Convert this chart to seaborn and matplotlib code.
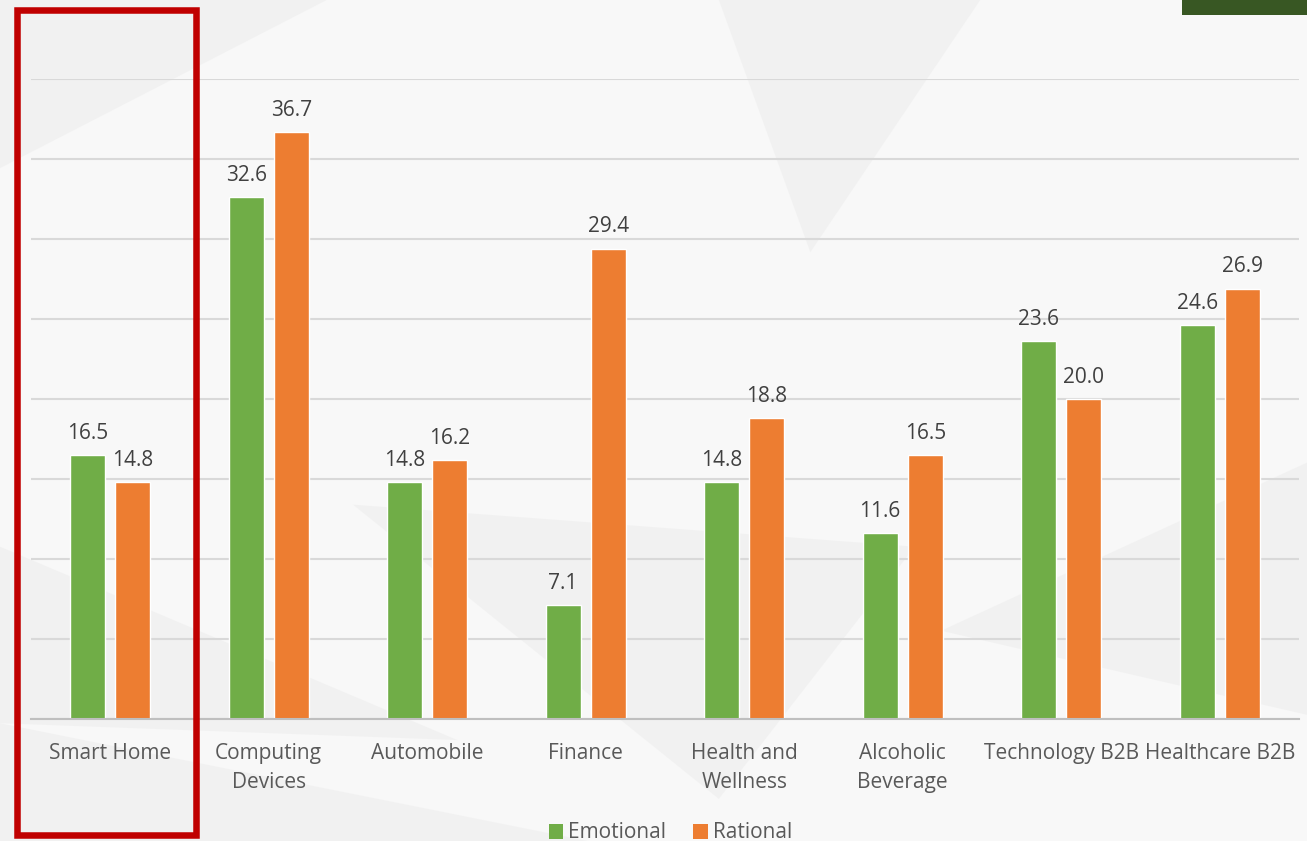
import matplotlib
matplotlib.use("Agg")
import matplotlib.pyplot as plt
from matplotlib.patches import Rectangle, Polygon
import seaborn as sns
import pandas as pd

categories = ["Smart Home", "Computing\nDevices", "Automobile", "Finance",
              "Health and\nWellness", "Alcoholic\nBeverage", "Technology B2B", "Healthcare B2B"]
emotional = [16.5, 32.6, 14.8, 7.1, 14.8, 11.6, 23.6, 24.6]
rational = [14.8, 36.7, 16.2, 29.4, 18.8, 16.5, 20.0, 26.9]
series_names = ["Emotional", "Rational"]
colors = ["#70AD47", "#ED7D31"]

df = pd.DataFrame({
    "Category": categories * 2,
    "Value": emotional + rational,
    "Series": [series_names[0]] * len(categories) + [series_names[1]] * len(categories),
})

sns.set_theme(style="white")
plt.rcParams["font.family"] = ["Open Sans", "DejaVu Sans"]

fig = plt.figure(figsize=(13.07, 8.41), dpi=100)
fig.patch.set_facecolor("#F8F8F8")

# faint decorative background shapes (behind the chart)
bg_shapes = [
    [(0, 0), (0, 0.14), (0.45, 0.0)],
    [(0.0, 0.14), (0.0, 0.35), (0.35, 0.12)],
    [(0.27, 0.40), (0.55, 0.05), (0.70, 0.35)],
    [(0.55, 1.0), (0.75, 1.0), (0.62, 0.7)],
    [(0.72, 0.25), (1.0, 0.45), (1.0, 0.15)],
    [(0.0, 1.0), (0.25, 1.0), (0.0, 0.8)],
]
for pts in bg_shapes:
    fig.patches.append(Polygon(pts, closed=True, transform=fig.transFigure,
                               facecolor="#EFEFEF", edgecolor="none", alpha=0.7, zorder=-5))

ax = fig.add_axes([31 / 1307, 1 - 719 / 841, (1299 - 31) / 1307, (719 - 79) / 841])
ax.set_facecolor("none")

sns.barplot(data=df, x="Category", y="Value", hue="Series", palette=colors,
            width=0.57, gap=0.23, ax=ax, legend=False, zorder=3, saturation=1)

for cont in ax.containers:
    ax.bar_label(cont, fmt="%.1f", padding=8, fontsize=15, color="#404040")

ax.set_ylim(0, 40)
ax.set_xlim(-0.5, len(categories) - 0.5)
ax.set_yticks(range(0, 41, 5))
ax.set_yticklabels([])
ax.yaxis.grid(True, color="#D9D9D9", linewidth=1.5, zorder=0)
ax.set_axisbelow(True)
ax.tick_params(axis="y", length=0)
for s in ["top", "right", "left"]:
    ax.spines[s].set_visible(False)
ax.spines["bottom"].set_color("#BFBFBF")
ax.spines["bottom"].set_linewidth(1.5)
ax.spines["bottom"].set_zorder(4)
ax.set_xlabel("")
ax.set_ylabel("")
ax.set_xticks([i - 0.5 for i in range(len(categories) + 1)], minor=True)
ax.tick_params(axis="x", which="minor", length=6, width=1.5, color="#BFBFBF", direction="out")
ax.tick_params(axis="x", which="major", length=0, pad=17, labelsize=15, labelcolor="#595959")
ax.set_xticks(range(len(categories)))
ax.set_xticklabels(categories, linespacing=1.5, va="top")

# legend
handles = [Rectangle((0, 0), 1, 1, facecolor=c, edgecolor="none") for c in colors]
fig.legend(handles, series_names, loc="center", bbox_to_anchor=(0.513, 1 - 833 / 841),
           ncol=2, frameon=False, fontsize=15, handlelength=0.7, handleheight=0.7,
           handletextpad=0.25, columnspacing=1.3, labelcolor="#595959")

# red highlight rectangle
fig.patches.append(Rectangle((16.5 / 1307, 1 - 835 / 841), (196 - 16.5) / 1307, (835 - 10) / 841,
                             transform=fig.transFigure, fill=False, edgecolor="#C00000",
                             linewidth=4.7, zorder=10))
# dark green corner block
fig.patches.append(Rectangle((1182 / 1307, 1 - 15 / 841), 125 / 1307, 15 / 841,
                             transform=fig.transFigure, facecolor="#385723", edgecolor="none",
                             zorder=10))

fig.savefig("out.png", dpi=100, facecolor=fig.get_facecolor())
